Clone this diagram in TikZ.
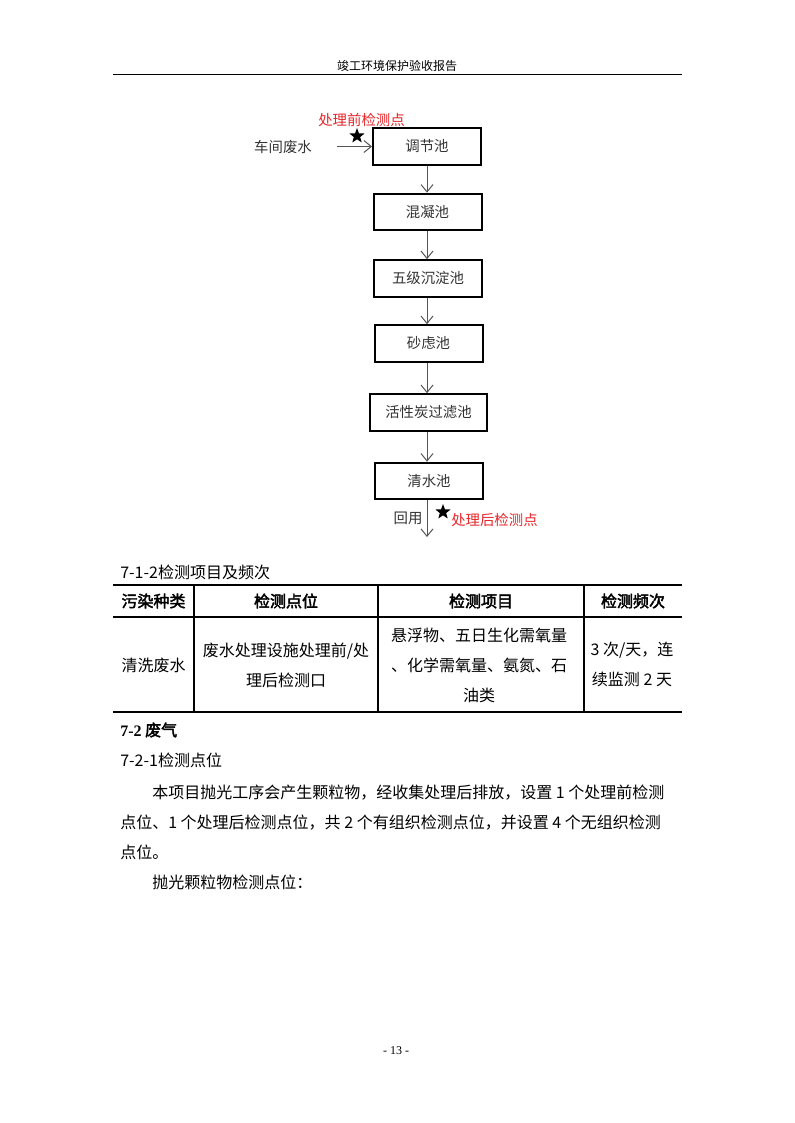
\documentclass[tikz,border=0pt]{standalone}
\usepackage{fontspec}
\setmainfont{Noto Sans CJK SC}[AutoFakeBold=2.5]
\newfontfamily\tnr{Liberation Serif}
\usetikzlibrary{arrows.meta,shapes.geometric}
\definecolor{flowgray}{HTML}{555555}
\definecolor{boxtext}{HTML}{333333}
\definecolor{markred}{HTML}{E8262A}
\begin{document}
\begin{tikzpicture}[x=0.75pt,y=-0.75pt,
  proc/.style={draw=black, line width=1.5pt, fill=white, minimum width=81pt, minimum height=27.5pt, inner sep=0pt, text=boxtext, font=\fontsize{10.8}{12}\selectfont},
  flow/.style={draw=flowgray, line width=0.75pt, -{Straight Barb[length=5.5pt,width=9pt,line width=0.75pt]}},
  starmark/.style={star, star points=5, star point ratio=2.4, fill=black, draw=none, minimum size=12pt, inner sep=0pt},
  redlbl/.style={text=markred, font=\fontsize{10.8}{12}\selectfont, inner sep=0pt},
  graylbl/.style={text=boxtext, font=\fontsize{10.8}{12}\selectfont, inner sep=0pt},
  body/.style={font=\fontsize{12}{22.5}\selectfont, inner sep=0pt, align=center},
  bodyl/.style={font=\fontsize{12}{22.5}\selectfont, inner sep=0pt, anchor=west},
  small/.style={font=\fontsize{9}{11}\selectfont, inner sep=0pt},
  rule/.style={line width=0.8pt, draw=black}
]
\useasboundingbox (0,0) rectangle (794,1123);
\fill[white] (0,0) rectangle (794,1123);

% page header
\node[small] (hdr) at (397,66) {竣工环境保护验收报告};
\coordinate (hl) at (113,75);
\coordinate (hr) at (682,75);
\draw[line width=0.75pt] (hl) -- (hr);

% flowchart
\node[proc] (b1) at (427,146.5) {调节池};
\node[proc] (b2) at (427.5,212) {混凝池};
\node[proc] (b3) at (428,278.5) {五级沉淀池};
\node[proc] (b4) at (428.5,343.5) {砂虑池};
\node[proc, minimum width=87.75pt] (b5) at (428.5,412.5) {活性炭过滤池};
\node[proc] (b6) at (429,481) {清水池};

\coordinate (in) at (337,146.5);
\coordinate (out) at (427,537);
\draw[flow] (in) -- (b1.west);
\draw[flow] (b1.south -| 427,0) -- (b2.north -| 427,0);
\draw[flow] (b2.south -| 427,0) -- (b3.north -| 427,0);
\draw[flow] (b3.south -| 427,0) -- (b4.north -| 427,0);
\draw[flow] (b4.south -| 427,0) -- (b5.north -| 427,0);
\draw[flow] (b5.south -| 427,0) -- (b6.north -| 427,0);
\draw[flow] (b6.south -| 427,0) -- (out);

\node[graylbl] (src) at (283,147) {车间废水};
\node[starmark] (s1) at (357,136) {};
\node[redlbl] (l1) at (361.5,120) {处理前检测点};
\node[graylbl] (reuse) at (408,518) {回用};
\node[starmark] (s2) at (443,512) {};
\node[redlbl, anchor=west] (l2) at (451,520) {处理后检测点};

% table caption
\node[bodyl] (cap) at (120,572) {7-1-2检测项目及频次};

% table rules
\draw[rule] (113,585) -- (682,585);
\draw[rule] (113,617) -- (682,617);
\draw[rule] (113,712) -- (682,712);
\draw[rule] (194,585) -- (194,712);
\draw[rule] (378,585) -- (378,712);
\draw[rule] (584,585) -- (584,712);

% table header
\node[body] (h1) at (153.5,601) {\bfseries 污染种类};
\node[body] (h2) at (286,601) {\bfseries 检测点位};
\node[body] (h3) at (481,601) {\bfseries 检测项目};
\node[body] (h4) at (633,601) {\bfseries 检测频次};

% table body
\node[body] (c1) at (153.5,665) {清洗废水};
\node[body] (c2) at (286,665) {废水处理设施处理前/处\\理后检测口};
\node[body] (c3) at (479,665) {悬浮物、五日生化需氧量\\、化学需氧量、氨氮、石\\油类};
\node[body] (c4) at (632,664) {3 次/天，连\\续监测 2 天};

% section text
\node[bodyl] (sec) at (120,730) {{\tnr\bfseries 7-2} \bfseries 废气};
\node[bodyl] (sub) at (120,760) {7-2-1检测点位};
\node[bodyl] (p1) at (152,793) {本项目抛光工序会产生颗粒物，经收集处理后排放，设置 1 个处理前检测};
\node[bodyl] (p2) at (120,823) {点位、1 个处理后检测点位，共 2 个有组织检测点位，并设置 4 个无组织检测};
\node[bodyl] (p3) at (120,852) {点位。};
\node[bodyl] (p4) at (152,882) {抛光颗粒物检测点位：};

% page number
\node[small] (pg) at (396,1051) {\tnr - 13 -};
\end{tikzpicture}
\end{document}
